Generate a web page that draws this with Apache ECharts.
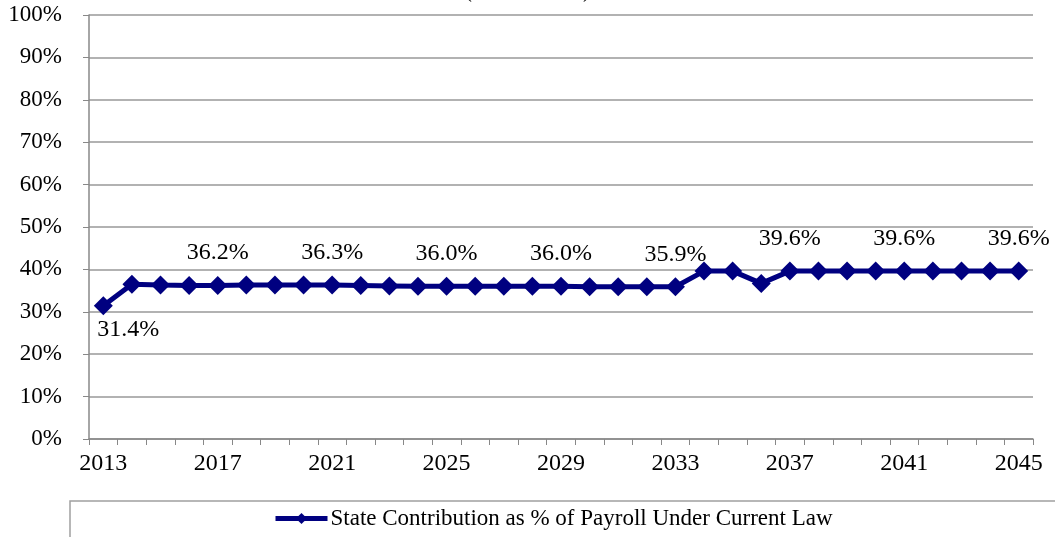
<!DOCTYPE html>
<html>
<head>
<meta charset="utf-8">
<script src="https://cdn.jsdelivr.net/npm/echarts@6/dist/echarts.min.js"></script>
<style>
  html, body { margin: 0; padding: 0; background: #fff; }
  #chart { width: 1055px; height: 537px; }
</style>
</head>
<body>
<div id="chart"></div>
<script>
const years = [];
for (let y = 2013; y <= 2045; y++) years.push(String(y));

const contribution = [
  31.4, 36.5, 36.3, 36.2, 36.2, 36.3, 36.3, 36.3, 36.3, 36.2, 36.1,
  36.0, 36.0, 36.0, 36.0, 36.0, 36.0, 35.9, 35.9, 35.9, 35.9,
  39.6, 39.6, 36.7, 39.6, 39.6, 39.6, 39.6, 39.6, 39.6, 39.6, 39.6, 39.6
];

// years that carry a value label
const labelledYears = ["2013", "2017", "2021", "2025", "2029", "2033", "2037", "2041", "2045"];

const serif = "Liberation Serif";
const chart = echarts.init(document.getElementById("chart"), null, { renderer: "canvas" });

const seriesData = contribution.map((v, i) => {
  const yr = years[i];
  if (!labelledYears.includes(yr)) return v;
  const below = yr === "2013";
  return {
    value: v,
    label: {
      show: true,
      position: below ? "bottom" : "top",
      distance: below ? 2 : 11,
      offset: below ? [25, 0] : [0, 0],
      formatter: (p) => p.value.toFixed(1) + "%",
      fontFamily: serif,
      fontSize: 24,
      color: "#000"
    }
  };
});

chart.setOption({
  backgroundColor: "#fff",
  animation: false,
  title: {
    text: "(2013 - 2045)",
    left: "center",
    top: -26,
    textStyle: { fontFamily: serif, fontSize: 23, fontWeight: "normal", color: "#000" }
  },
  grid: { left: 89, right: 22, top: 15, bottom: 98 },
  graphic: [
    {
      type: "rect",
      shape: { x: 70, y: 501, width: 1000, height: 60 },
      style: { fill: "none", stroke: "#a0a0a0", lineWidth: 1.5 }
    }
  ],
  legend: {
    top: 507,
    left: 273,
    padding: 0,
    itemWidth: 52,
    itemHeight: 14,
    itemGap: 4,
    lineStyle: { width: 5 },
    textStyle: { fontFamily: serif, fontSize: 23, color: "#000", padding: [0, 0, 0, -2] },
    data: ["State Contribution as % of Payroll Under Current Law"]
  },
  xAxis: {
    type: "category",
    data: years,
    boundaryGap: true,
    axisLine: { lineStyle: { color: "#888", width: 1.5 } },
    axisTick: { show: true, alignWithLabel: false, interval: 0, length: 6, lineStyle: { color: "#888" } },
    axisLabel: {
      interval: 3,
      fontFamily: serif,
      fontSize: 24,
      color: "#000",
      margin: 13
    },
    splitLine: { show: false }
  },
  yAxis: {
    type: "value",
    min: 0,
    max: 100,
    interval: 10,
    axisLine: { show: true, lineStyle: { color: "#888", width: 1.5 } },
    axisTick: { show: true, length: 6, lineStyle: { color: "#888" } },
    axisLabel: {
      fontFamily: serif,
      fontSize: 23,
      color: "#000",
      margin: 27,
      formatter: (v) => v + "%"
    },
    splitLine: { show: true, lineStyle: { color: "#999", width: 1.5 } }
  },
  series: [
    {
      name: "State Contribution as % of Payroll Under Current Law",
      type: "line",
      data: seriesData,
      symbol: "diamond",
      symbolSize: 19,
      showAllSymbol: true,
      lineStyle: { color: "#000080", width: 5 },
      itemStyle: { color: "#000080" },
      label: { show: false }
    }
  ]
});
</script>
</body>
</html>
